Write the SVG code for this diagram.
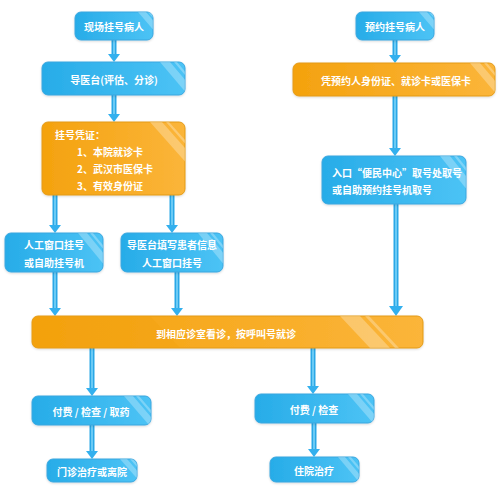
<svg xmlns="http://www.w3.org/2000/svg" width="500" height="503" viewBox="0 0 500 503">
<style>
.t{font-family:"Noto Sans CJK SC","Liberation Sans",sans-serif;font-size:10px;font-weight:bold;fill:#ffffff;dominant-baseline:central}
.m{text-anchor:middle}
.bb{fill:url(#gb);stroke:#3aa6df;stroke-width:1}
.ob{fill:url(#go);stroke:#e39a16;stroke-width:1}
.gl{fill:#ffffff;opacity:0.28}
.sh{stroke:#2aa7e6;stroke-width:5;fill:none}
.si{stroke:#7fd6fa;stroke-width:1.5;fill:none}
.hd{fill:#33b0ee}
</style>
<defs>
<linearGradient id="gb" x1="0" y1="0" x2="1" y2="0">
<stop offset="0" stop-color="#27ace8"/>
<stop offset="1" stop-color="#4cc3f5"/>
</linearGradient>
<linearGradient id="go" x1="0" y1="0" x2="1" y2="0">
<stop offset="0" stop-color="#f4a20e"/>
<stop offset="1" stop-color="#fbb53a"/>
</linearGradient>
<filter id="ds" x="-10%" y="-10%" width="120%" height="130%">
<feDropShadow dx="0" dy="1" stdDeviation="1" flood-color="#000" flood-opacity="0.15"/>
</filter>
<clipPath id="c1"><rect x="75" y="12" width="78" height="28" rx="6"/></clipPath>
<clipPath id="c2"><rect x="42" y="62" width="143" height="33" rx="6"/></clipPath>
<clipPath id="c3"><rect x="42" y="122" width="143" height="73" rx="6"/></clipPath>
<clipPath id="c4"><rect x="5" y="233" width="98" height="39" rx="6"/></clipPath>
<clipPath id="c5"><rect x="121" y="233" width="102" height="39" rx="6"/></clipPath>
<clipPath id="c6"><rect x="356" y="12" width="78" height="28" rx="6"/></clipPath>
<clipPath id="c7"><rect x="293" y="63" width="202" height="33" rx="6"/></clipPath>
<clipPath id="c8"><rect x="322" y="156" width="144" height="48" rx="6"/></clipPath>
<clipPath id="c9"><rect x="32" y="316" width="391" height="32" rx="6"/></clipPath>
<clipPath id="c10"><rect x="32" y="396" width="119" height="29" rx="6"/></clipPath>
<clipPath id="c11"><rect x="47" y="459" width="90" height="23" rx="6"/></clipPath>
<clipPath id="c12"><rect x="255" y="394" width="119" height="29" rx="6"/></clipPath>
<clipPath id="c13"><rect x="270" y="457" width="89" height="25" rx="6"/></clipPath>
</defs>
<rect width="500" height="503" fill="#ffffff"/>

<g id="connectors">
<g>
<path class="sh" d="M114 40V55M114 95V115M395 40V56M395 96V149M55 195V226M172 195V226M55 272V309M177 272V309M396 204V308M92 348V389M313 348V387M92 425V452M314 423V450"/>
<path class="si" d="M114 40V55M114 95V115M395 40V56M395 96V149M55 195V226M172 195V226M55 272V309M177 272V309M396 204V308M92 348V389M313 348V387M92 425V452M314 423V450"/>
</g>
<path class="hd" d="M108 54h12l-6 8z"/>
<path class="hd" d="M108 114h12l-6 8z"/>
<path class="hd" d="M389 55h12l-6 8z"/>
<path class="hd" d="M389 148h12l-6 8z"/>
<path class="hd" d="M49 225h12l-6 8z"/>
<path class="hd" d="M166 225h12l-6 8z"/>
<path class="hd" d="M49 308h12l-6 8z"/>
<path class="hd" d="M171 308h12l-6 8z"/>
<path class="hd" d="M389 306h14l-7 10z"/>
<path class="hd" d="M86 388h12l-6 8z"/>
<path class="hd" d="M307 386h12l-6 8z"/>
<path class="hd" d="M86 451h12l-6 8z"/>
<path class="hd" d="M308 449h12l-6 8z"/>
</g>

<g id="n1">
<rect class="bb" x="75" y="12" width="78" height="28" rx="6" filter="url(#ds)"/>
<g clip-path="url(#c1)"><path class="gl" d="M138 12h8l24 28h-8z"/><path class="gl" d="M148 12h3l24 28h-3z"/></g>
<text class="t m" x="114" y="26">现场挂号病人</text>
</g>
<g id="n2">
<rect class="bb" x="42" y="62" width="143" height="33" rx="6" filter="url(#ds)"/>
<g clip-path="url(#c2)"><path class="gl" d="M160 62h10l28 33h-10z"/><path class="gl" d="M174 62h3l28 33h-3z"/></g>
<text class="t m" x="114" y="79">导医台(评估、分诊)</text>
</g>
<g id="n3">
<rect class="ob" x="42" y="122" width="143" height="73" rx="6" filter="url(#ds)"/>
<g clip-path="url(#c3)"><path class="gl" d="M150 122h12l40 45h-12z"/><path class="gl" d="M166 122h3l40 45h-3z"/></g>
<text class="t" x="55" y="134">挂号凭证：</text>
<text class="t" x="77" y="151">1、本院就诊卡</text>
<text class="t" x="77" y="168">2、武汉市医保卡</text>
<text class="t" x="77" y="185">3、有效身份证</text>
</g>
<g id="n4">
<rect class="bb" x="5" y="233" width="98" height="39" rx="6" filter="url(#ds)"/>
<g clip-path="url(#c4)"><path class="gl" d="M78 233h9l32 39h-9z"/><path class="gl" d="M90 233h3l32 39h-3z"/></g>
<text class="t m" x="54" y="244">人工窗口挂号</text>
<text class="t m" x="54" y="262">或自助挂号机</text>
</g>
<g id="n5">
<rect class="bb" x="121" y="233" width="102" height="39" rx="6" filter="url(#ds)"/>
<g clip-path="url(#c5)"><path class="gl" d="M198 233h9l32 39h-9z"/><path class="gl" d="M210 233h3l32 39h-3z"/></g>
<text class="t m" x="172" y="244">导医台填写患者信息</text>
<text class="t m" x="172" y="262">人工窗口挂号</text>
</g>
<g id="n6">
<rect class="bb" x="356" y="12" width="78" height="28" rx="6" filter="url(#ds)"/>
<g clip-path="url(#c6)"><path class="gl" d="M419 12h8l24 28h-8z"/><path class="gl" d="M429 12h3l24 28h-3z"/></g>
<text class="t m" x="395" y="26">预约挂号病人</text>
</g>
<g id="n7">
<rect class="ob" x="293" y="63" width="202" height="33" rx="6" filter="url(#ds)"/>
<g clip-path="url(#c7)"><path class="gl" d="M470 63h10l28 33h-10z"/><path class="gl" d="M484 63h3l28 33h-3z"/></g>
<text class="t m" x="396" y="80">凭预约人身份证、就诊卡或医保卡</text>
</g>
<g id="n8">
<rect class="bb" x="322" y="156" width="144" height="48" rx="6" filter="url(#ds)"/>
<g clip-path="url(#c8)"><path class="gl" d="M440 156h10l36 45h-10z"/><path class="gl" d="M454 156h3l36 45h-3z"/></g>
<text class="t" x="332" y="172">入口“便民中心”取号处取号</text>
<text class="t" x="332" y="189">或自助预约挂号机取号</text>
</g>
<g id="n9">
<rect class="ob" x="32" y="316" width="391" height="32" rx="6" filter="url(#ds)"/>
<g clip-path="url(#c9)"><path fill="#f0a00c" opacity="0.35" d="M32 316h118l30 32h-148z"/><path class="gl" d="M340 316h20l30 32h-20z"/><path class="gl" d="M365 316h4l30 32h-4z"/></g>
<text class="t m" x="226" y="333">到相应诊室看诊，按呼叫号就诊</text>
</g>
<g id="n10">
<rect class="bb" x="32" y="396" width="119" height="29" rx="6" filter="url(#ds)"/>
<g clip-path="url(#c10)"><path class="gl" d="M124 396h9l25 29h-9z"/><path class="gl" d="M136 396h3l25 29h-3z"/></g>
<text class="t m" x="91" y="411">付费 / 检查 / 取药</text>
</g>
<g id="n11">
<rect class="bb" x="47" y="459" width="90" height="23" rx="6" filter="url(#ds)"/>
<g clip-path="url(#c11)"><path class="gl" d="M120 459h7l20 23h-7z"/><path class="gl" d="M130 459h3l20 23h-3z"/></g>
<text class="t m" x="92" y="471">门诊治疗或离院</text>
</g>
<g id="n12">
<rect class="bb" x="255" y="394" width="119" height="29" rx="6" filter="url(#ds)"/>
<g clip-path="url(#c12)"><path class="gl" d="M348 394h9l25 29h-9z"/><path class="gl" d="M360 394h3l25 29h-3z"/></g>
<text class="t m" x="314" y="409">付费 / 检查</text>
</g>
<g id="n13">
<rect class="bb" x="270" y="457" width="89" height="25" rx="6" filter="url(#ds)"/>
<g clip-path="url(#c13)"><path class="gl" d="M338 457h7l21 25h-7z"/><path class="gl" d="M348 457h3l21 25h-3z"/></g>
<text class="t m" x="314" y="470">住院治疗</text>
</g>
</svg>
